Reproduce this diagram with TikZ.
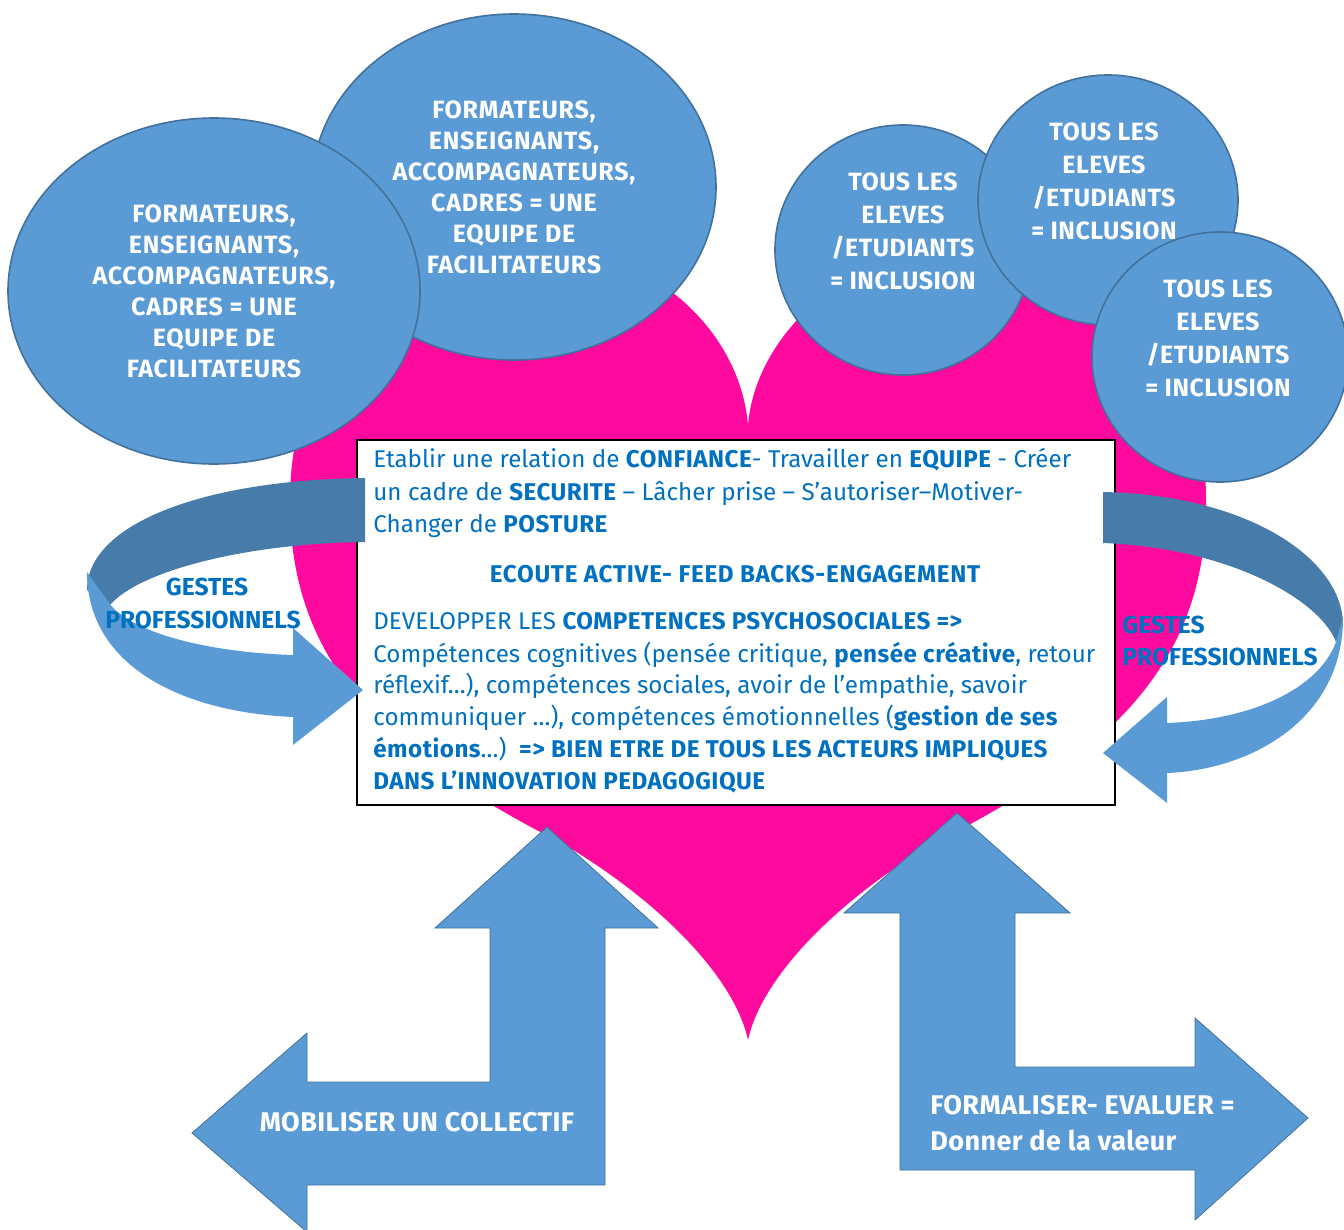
\documentclass[tikz,border=0pt]{standalone}
\usepackage{fontspec}
\setmainfont{Fira Sans}
\usetikzlibrary{shapes.geometric}
\definecolor{heartpink}{HTML}{FF0A9E}
\definecolor{circblue}{HTML}{5B9BD5}
\definecolor{circline}{HTML}{41719C}
\definecolor{banddark}{HTML}{477BAA}
\definecolor{txtblue}{HTML}{0070C0}
\newcommand{\bx}[1]{{\bfseries\addfontfeature{LetterSpace=2}#1}}
\tikzset{
  bubble/.style={ellipse, fill=circblue, draw=circline, line width=0.8pt, inner sep=0pt},
  bubbletext/.style={text=white, font=\bfseries\fontsize{12.5}{15.5}\selectfont\addfontfeature{LetterSpace=3}, align=center, inner sep=0pt},
  inctext/.style={text=white, font=\bfseries\fontsize{12.5}{16.5}\selectfont\addfontfeature{LetterSpace=2}, align=center, inner sep=0pt},
  boxline/.style={anchor=base west, inner sep=0pt, text=txtblue, font=\fontsize{12.1}{14}\selectfont},
  gestes/.style={text=txtblue, font=\bfseries\fontsize{12.3}{16.5}\selectfont, inner sep=0pt},
  arrowshape/.style={fill=circblue, draw=circline, line width=0.4pt},
  arrowtext/.style={text=white, font=\bfseries\fontsize{13.5}{18}\selectfont\addfontfeature{LetterSpace=1.5}, inner sep=0pt}
}
\begin{document}
\begin{tikzpicture}[x=0.5pt,y=-0.5pt]
\useasboundingbox (0,0) rectangle (1344,1230);
% heart
\fill[heartpink] (748,425) .. controls (740,330) and (650,245) .. (530,245)
  .. controls (420,245) and (290,330) .. (290,500)
  .. controls (288,680) and (410,765) .. (565,845)
  .. controls (665,905) and (735,980) .. (748,1040)
  .. controls (761,980) and (831,905) .. (931,845)
  .. controls (1086,765) and (1208,680) .. (1206,500)
  .. controls (1206,330) and (1076,245) .. (966,245)
  .. controls (856,245) and (756,330) .. (748,425) -- cycle;
% left bubbles
\node[bubble, minimum width=202pt, minimum height=173pt] (l2) at (514,187) {};
\node[bubbletext] (l2t) at (l2.center) {FORMATEURS,\\ENSEIGNANTS,\\ACCOMPAGNATEURS,\\CADRES = UNE\\EQUIPE DE\\FACILITATEURS};
\node[bubble, minimum width=206pt, minimum height=173pt] (l1) at (214,291) {};
\node[bubbletext] (l1t) at (l1.center) {FORMATEURS,\\ENSEIGNANTS,\\ACCOMPAGNATEURS,\\CADRES = UNE\\EQUIPE DE\\FACILITATEURS};
% right bubbles
\node[bubble, minimum width=128pt, minimum height=125pt] (c3) at (903,250) {};
\node[inctext] (c3t) at ([yshift=9.5pt]c3.center) {TOUS LES\\ELEVES\\/ETUDIANTS\\= INCLUSION};
\node[bubble, minimum width=130pt, minimum height=125pt] (c4) at (1108,200) {};
\node[inctext] (c4t) at ([yshift=9.5pt, xshift=-2pt]c4.center) {TOUS LES\\ELEVES\\/ETUDIANTS\\= INCLUSION};
\node[bubble, minimum width=128pt, minimum height=125pt] (c5) at (1220,357) {};
\node[inctext] (c5t) at ([yshift=9.5pt, xshift=-1pt]c5.center) {TOUS LES\\ELEVES\\/ETUDIANTS\\= INCLUSION};
% central box
\node[draw=black, line width=1pt, fill=white, minimum width=379pt, minimum height=182.5pt, inner sep=0pt] (box) at (736,622.5) {};
\node[boxline] (t1) at (373,467) {Etablir une relation de \bx{CONFIANCE}- Travailler en \bx{EQUIPE} - Créer};
\node[boxline] (t2) at (373,500) {un cadre de \bx{SECURITE} – Lâcher prise – S’autoriser–Motiver-};
\node[boxline] (t3) at (373,532) {Changer de \bx{POSTURE}};
\node[boxline, anchor=base] (t4) at (735,582) {\bfseries\addfontfeature{LetterSpace=3}ECOUTE ACTIVE- FEED BACKS-ENGAGEMENT};
\node[boxline] (t5) at (373,629) {DEVELOPPER LES \bx{COMPETENCES PSYCHOSOCIALES =>}};
\node[boxline] (t6) at (373,662) {Compétences cognitives (pensée critique, \bx{pensée créative}, retour};
\node[boxline] (t7) at (373,693) {réflexif…), compétences sociales, avoir de l’empathie, savoir};
\node[boxline] (t8) at (373,725) {communiquer …), compétences émotionnelles (\bx{gestion de ses}};
\node[boxline] (t9) at (373,757) {\bx{émotions}…)\ \ \bx{=> BIEN ETRE DE TOUS LES ACTEURS IMPLIQUES}};
\node[boxline] (t10) at (373,789) {\bx{DANS L’INNOVATION PEDAGOGIQUE}};
% left curved arrow
\fill[banddark] (365,478) .. controls (200,480) and (87,525) .. (87,590)
  -- (110,605) .. controls (140,570) and (250,543) .. (365,542) -- cycle;
\fill[circblue] (87,572) .. controls (87,665) and (180,712) .. (293,717)
  -- (293,745) -- (363,690) -- (293,628) -- (293,655)
  .. controls (200,652) and (125,630) .. (107,600) -- cycle;
\node[gestes] (g1a) at (207,587) {GESTES};
\node[gestes] (g1b) at (203,620) {PROFESSIONNELS};
% right curved arrow
\fill[banddark] (1103,492) .. controls (1250,495) and (1343,560) .. (1343,625)
  -- (1336,642) .. controls (1320,600) and (1230,548) .. (1103,543) -- cycle;
\fill[circblue] (1343,618) .. controls (1343,720) and (1250,770) .. (1167,773)
  -- (1167,803) -- (1103,753) -- (1167,697) -- (1167,723)
  .. controls (1250,720) and (1318,690) .. (1336,642) -- cycle;
\node[gestes, anchor=west] (g2a) at (1122,625) {GESTES};
\node[gestes, anchor=west] (g2b) at (1122,657) {PROFESSIONNELS};
% bottom left bent arrow
\filldraw[arrowshape] (547,827) -- (658,928) -- (605,928) -- (605,1185) -- (307,1185)
  -- (307,1232) -- (192,1133) -- (307,1033) -- (307,1082) -- (490,1082)
  -- (490,928) -- (435,928) -- cycle;
\node[arrowtext] (mob) at (417,1122) {MOBILISER UN COLLECTIF};
% bottom right bent arrow
\filldraw[arrowshape] (957,813) -- (1070,913) -- (1015,913) -- (1015,1067) -- (1195,1067)
  -- (1195,1018) -- (1308,1118) -- (1195,1220) -- (1195,1170) -- (900,1170)
  -- (900,913) -- (844,913) -- cycle;
\node[arrowtext, anchor=west, align=left] (form) at (930,1123) {FORMALISER- EVALUER =\\Donner de la valeur};
\end{tikzpicture}
\end{document}
